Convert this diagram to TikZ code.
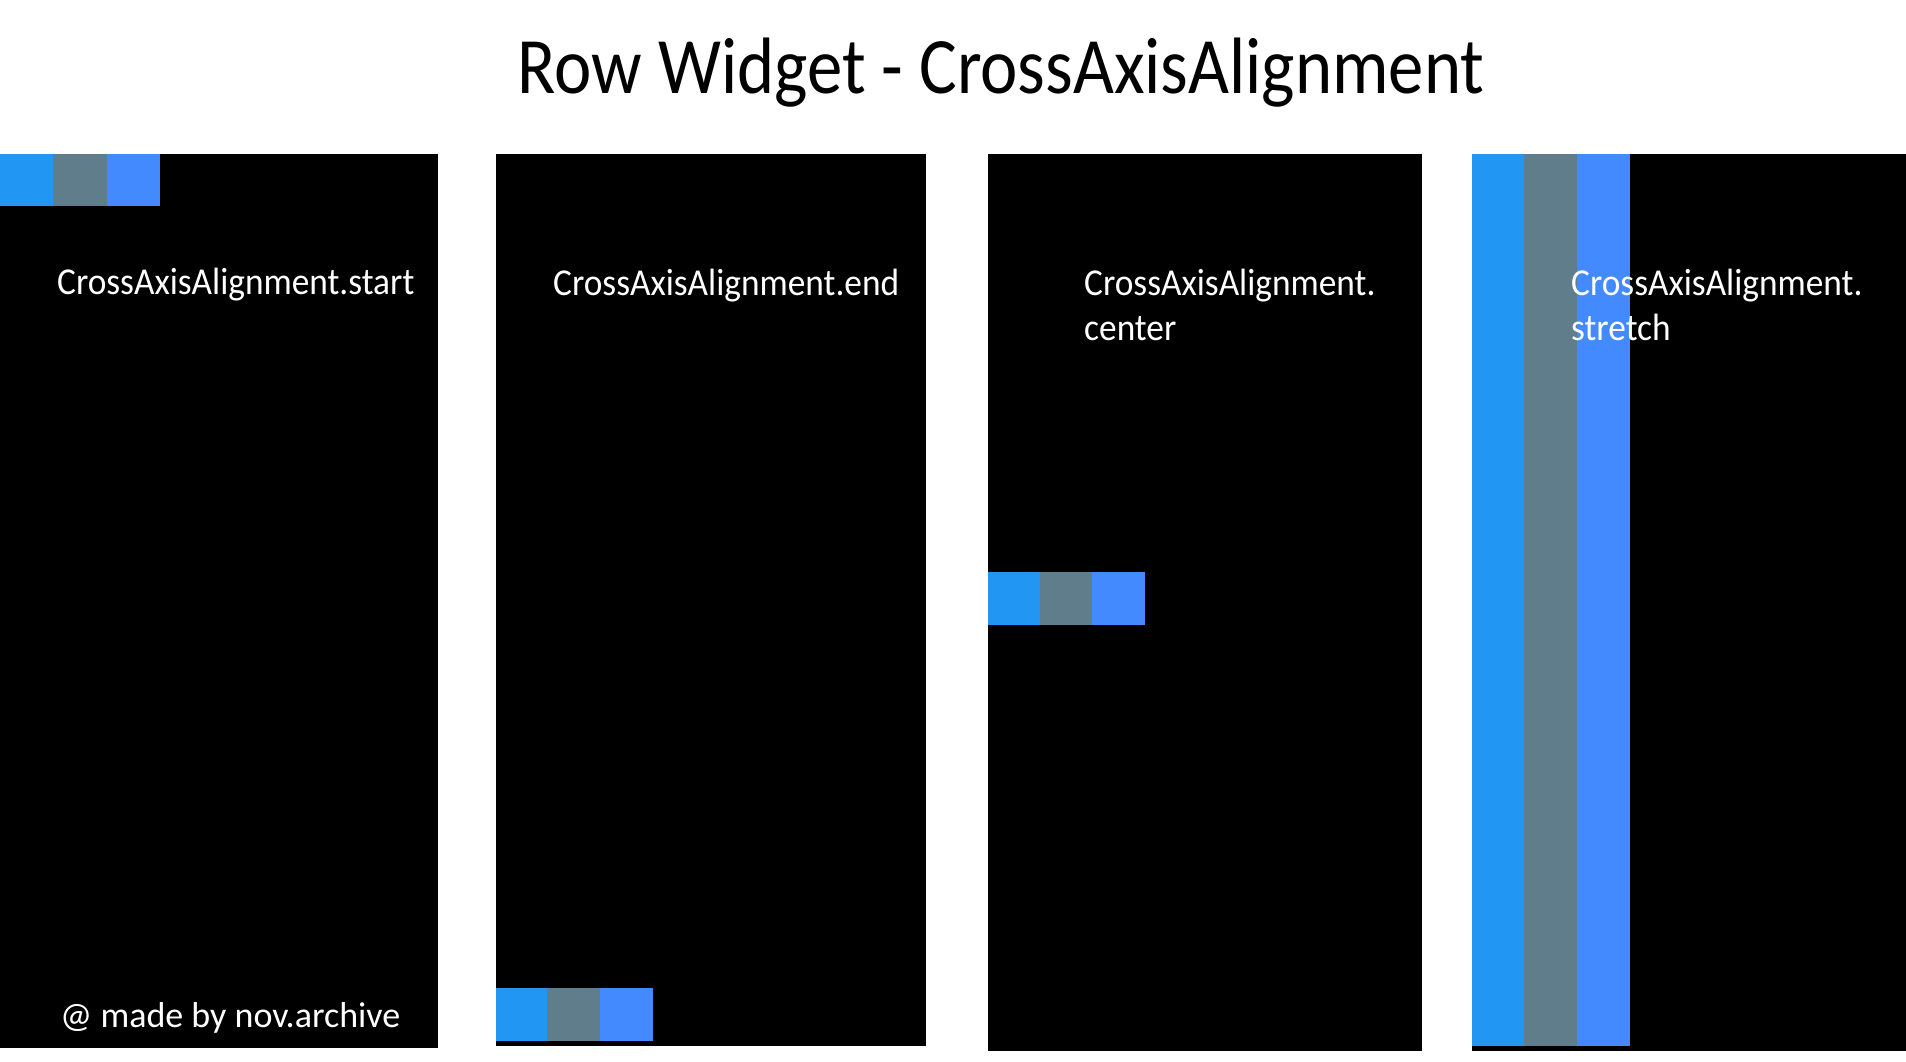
\documentclass[tikz,border=0pt]{standalone}
\usepackage{fontspec}
\setmainfont{Carlito}
\definecolor{cA}{HTML}{2196F3}
\definecolor{cB}{HTML}{607D8B}
\definecolor{cC}{HTML}{448AFF}
\newcommand{\nx}[1]{\scalebox{0.93}[1]{#1}}
\begin{document}
\begin{tikzpicture}[x=1pt,y=-1pt,
  panel/.style={fill=black},
  lbl/.style={text=white,inner sep=0pt,anchor=base west,font=\fontsize{38}{45}\selectfont},
  ttl/.style={text=black,inner sep=0pt,anchor=base,font=\fontsize{80}{90}\selectfont}]
\useasboundingbox[fill=white] (0,0) rectangle (1906,1061);
% title
\node[ttl] (title) at (1001,93) {\scalebox{0.884}[1]{Row Widget - CrossAxisAlignment}};
% panels
\fill[panel] (0,154) rectangle (438,1047.7);
\fill[panel] (496,154) rectangle (926,1045.7);
\fill[panel] (988,154) rectangle (1422,1050.7);
\fill[panel] (1472,154) rectangle (1906,1050.7);
% start
\fill[cA] (0,154) rectangle (53.3,206);
\fill[cB] (53.3,154) rectangle (106.7,206);
\fill[cC] (106.7,154) rectangle (160,206);
% end
\fill[cA] (496,988.3) rectangle (547.3,1041.3);
\fill[cB] (547.3,988.3) rectangle (600.3,1041.3);
\fill[cC] (600.3,988.3) rectangle (653.3,1041.3);
% center
\fill[cA] (988,572.3) rectangle (1040,625.3);
\fill[cB] (1040,572.3) rectangle (1092,625.3);
\fill[cC] (1092,572.3) rectangle (1145,625.3);
% stretch
\fill[cA] (1472,154) rectangle (1524,1046);
\fill[cB] (1524,154) rectangle (1577,1046);
\fill[cC] (1577,154) rectangle (1630,1046);
% labels
\node[lbl] (l1) at (57,294) {\nx{CrossAxisAlignment.start}};
\node[lbl] (l2) at (553,295) {\nx{CrossAxisAlignment.end}};
\node[lbl] (l3a) at (1084,295) {\nx{CrossAxisAlignment.}};
\node[lbl] (l3b) at (1084,340.5) {\nx{center}};
\node[lbl] (l4a) at (1571,295) {\nx{CrossAxisAlignment.}};
\node[lbl] (l4b) at (1571,340.5) {\nx{stretch}};
\node[lbl,font=\fontsize{36}{40}\selectfont] (foot) at (60,1027) {@ made by nov.archive};
\end{tikzpicture}
\end{document}
